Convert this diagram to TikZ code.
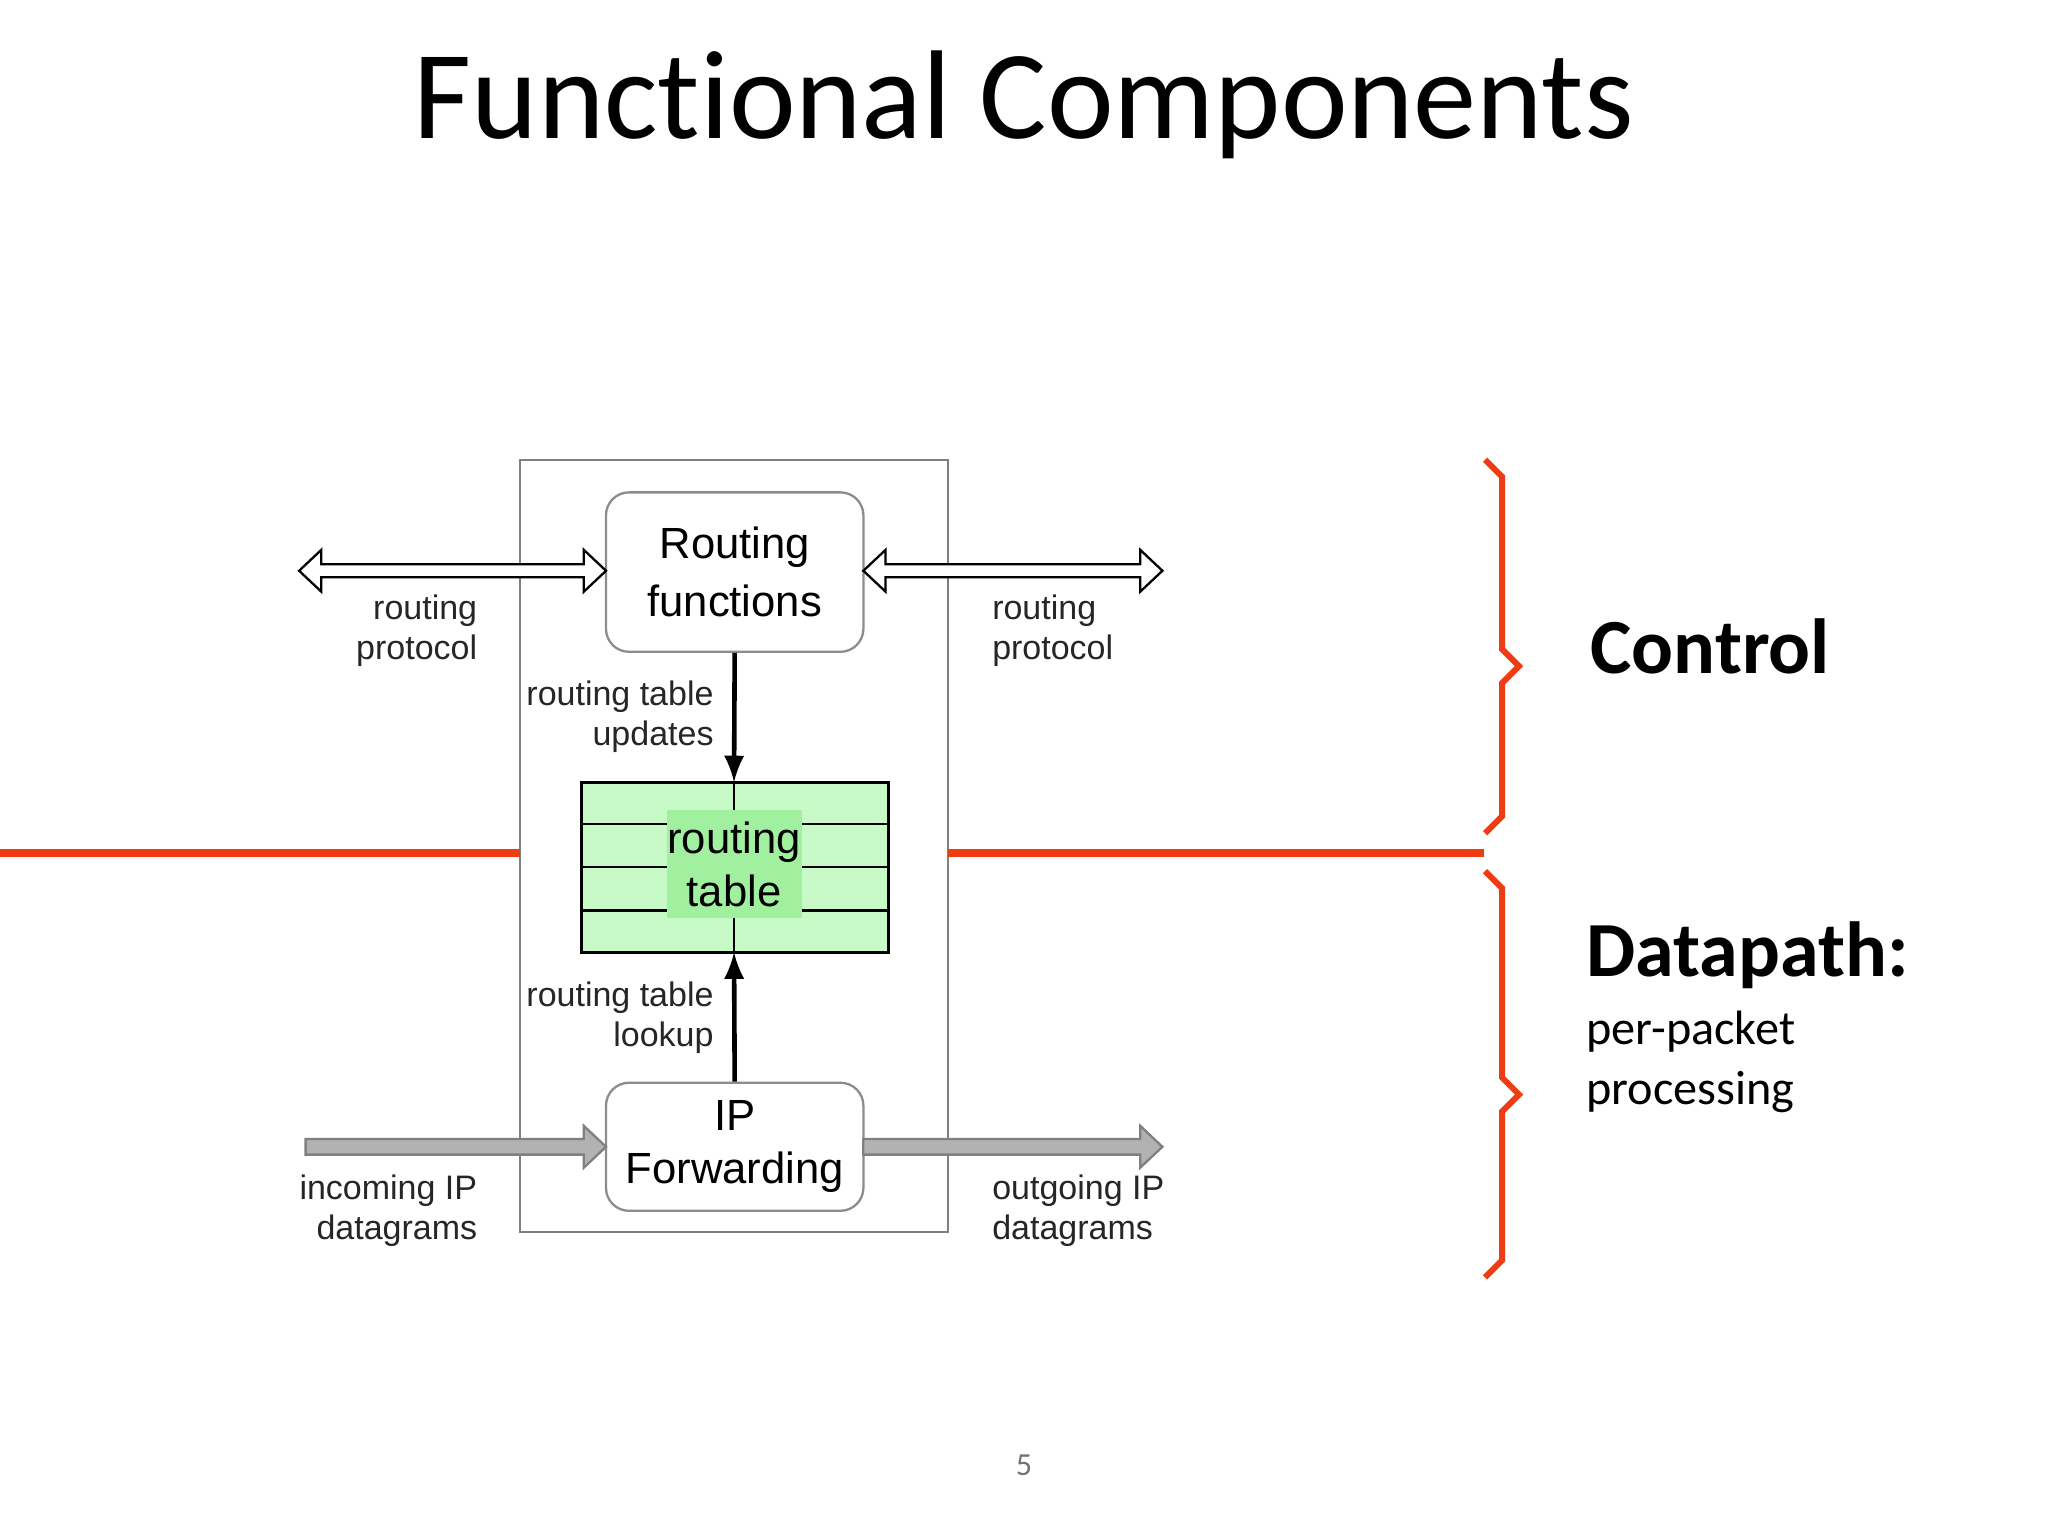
\documentclass[tikz,border=0pt]{standalone}
\usepackage{fontspec}
\setmainfont{Liberation Sans}
\newfontfamily\calfont{Carlito}[Ligatures={NoCommon}]
\definecolor{hlgreen}{RGB}{160,240,160}
\definecolor{tblgreen}{RGB}{200,250,200}
\definecolor{redline}{RGB}{240,60,20}
\begin{document}
\begin{tikzpicture}[x=0.01cm,y=-0.01cm,
 lbl/.style={font=\fontsize{7.4}{8.7}\selectfont,text=black!85,inner sep=0pt,align=center},
 box/.style={draw=black!45,rounded corners=5pt,fill=white,line width=0.5pt},
 red/.style={draw=redline,line width=1pt},
 hol/.style={draw=black,fill=white,line width=0.5pt},
 gr/.style={draw=black!50,fill=black!30,line width=0.5pt}]
\useasboundingbox (0,0) rectangle (1568,1176);
\node[font=\calfont\fontsize{27.5}{30}\selectfont] (title) at (784,80) {Functional Components};
\draw[black!50,line width=0.4pt] (398,352) rectangle (726,943);
% red line
\coordinate (r0) at (0,653); \coordinate (r1) at (398,653);
\coordinate (r2) at (726,653); \coordinate (r3) at (1136,653);
\draw[red,line width=1.6pt] (r0)--(r1) (r2)--(r3);
% routing table
\fill[tblgreen] (445,599) rectangle (680,729);
\draw[line width=0.5pt] (445,631)--(680,631) (445,664)--(680,664) (445,697)--(680,697) (562,599)--(562,729);
\fill[hlgreen] (511,620) rectangle (614,703);
\draw[line width=0.6pt] (445,599) rectangle (680,729);
\node[font=\fontsize{9.5}{11.5}\selectfont,align=center,inner sep=0pt] (rt) at (562,662) {routing\\table};
\coordinate (rtT) at (562,599); \coordinate (rtB) at (562,729);
% boxes
\node[box,minimum width=197*0.2845pt,minimum height=122*0.2845pt,font=\fontsize{9.5}{12.5}\selectfont,align=center] (rf) at (562.5,438) {Routing\\functions};
\node[box,minimum width=197*0.2845pt,minimum height=98*0.2845pt,font=\fontsize{9.5}{11.5}\selectfont,align=center] (ipf) at (562.5,878) {IP\\Forwarding};
\draw[-latex,line width=1pt] (rf.south)--(rtT);
\draw[-latex,line width=1pt] (ipf.north)--(rtB);
% hollow double arrows
\draw[hol] (229,437)--(246,421)--(246,432)--(447,432)--(447,421)--(464,437)--(447,453)--(447,442)--(246,442)--(246,453)--cycle;
\draw[hol] (661,437)--(678,421)--(678,432)--(873,432)--(873,421)--(890,437)--(873,453)--(873,442)--(678,442)--(678,453)--cycle;
% gray arrows
\draw[gr] (234,872)--(447,872)--(447,862)--(464,878)--(447,894)--(447,884)--(234,884)--cycle;
\draw[gr] (661,872)--(873,872)--(873,862)--(890,878)--(873,894)--(873,884)--(661,884)--cycle;
% labels
\node[lbl,align=right,anchor=east] (l1) at (366,483) {routing\\protocol};
\node[lbl,align=left,anchor=west] (l2) at (759,483) {routing\\protocol};
\node[lbl,align=right,anchor=east] (l3) at (547,549) {routing table\\updates};
\node[lbl,align=right,anchor=east] (l4) at (547,779) {routing table\\lookup};
\node[lbl,align=right,anchor=east] (l5) at (366,927) {incoming IP\\datagrams};
\node[lbl,align=left,anchor=west] (l6) at (759,927) {outgoing IP\\datagrams};
% braces
\draw[red,line width=1.3pt] (1137,352)--(1150,365)--(1150,497)--(1163,510)--(1150,523)--(1150,625)--(1137,638);
\draw[red,line width=1.3pt] (1137,667)--(1150,680)--(1150,825)--(1163,838)--(1150,851)--(1150,965)--(1137,978);
\node[font=\calfont\bfseries\fontsize{17}{18}\selectfont,anchor=west,inner sep=0pt] (ctl) at (1217,495) {Control};
\node[font=\calfont\bfseries\fontsize{17}{18}\selectfont,anchor=west,inner sep=0pt] (dp) at (1214,731) {Datapath:};
\node[font=\calfont\fontsize{10.5}{13}\selectfont,anchor=west,align=left,inner sep=0pt] (pp) at (1214,813) {per-packet\\processing};
\node[font=\calfont\fontsize{7}{8}\selectfont,text=black!55] (pg) at (784,1122) {5};
\end{tikzpicture}
\end{document}
